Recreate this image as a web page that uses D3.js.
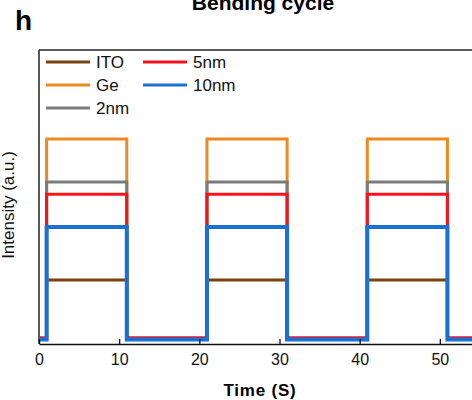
<!DOCTYPE html>
<html>
<head>
<meta charset="utf-8">
<script src="https://cdn.jsdelivr.net/npm/d3@7"></script>
<style>
  html, body { margin: 0; padding: 0; background: #fff; overflow: hidden; }
  svg { display: block; font-family: Arial, "Liberation Sans", sans-serif; }
</style>
</head>
<body>
<svg id="chart" width="472" height="400"></svg>
<script>
// Light switching times (s): the source toggles on/off every 10 s
const switchTimes = [0, 0.95, 10.95, 20.95, 30.95, 40.95, 50.95, 60];
const lightOn     = [0, 1, 0, 1, 0, 1, 0, 0];

// Series names, on-state and off-state intensity (a.u.)
const seriesNames = ["ITO", "Ge", "2nm", "5nm", "10nm"];
const onLevels    = [21.8, 69.7, 55.1, 50.9, 39.8];
const offLevels   = [1.9, 1.7, 1.8, 2.1, 1.5];
const seriesColors = ["#7a4210", "#ec8a1f", "#7c7c7c", "#f4141c", "#1a70d6"];
const seriesWidths = [3, 3, 3, 3, 4];

// Axis ticks
const xTicks = [0, 10, 20, 30, 40, 50];

const svg = d3.select("#chart");
const margin = { left: 39, top: 50, bottom: 344 };

const x = d3.scaleLinear().domain([0, 60]).range([margin.left, 520]);
const y = d3.scaleLinear().domain([0, 100]).range([margin.bottom, margin.top]);

// Panel label and title
svg.append("text")
  .attr("x", 15).attr("y", 30)
  .attr("font-size", 28).attr("font-weight", "bold")
  .text("h");

svg.append("text")
  .attr("x", 263).attr("y", 10)
  .attr("text-anchor", "middle")
  .attr("font-size", 21).attr("font-weight", "bold")
  .text("Bending cycle");

// Frame: top and left edges
svg.append("line")
  .attr("x1", x(0)).attr("x2", x(60))
  .attr("y1", y(100)).attr("y2", y(100))
  .attr("stroke", "#222").attr("stroke-width", 1.5);

svg.append("line")
  .attr("x1", x(0)).attr("x2", x(0))
  .attr("y1", y(100)).attr("y2", y(0))
  .attr("stroke", "#222").attr("stroke-width", 1.5);

// Series as step lines
const series = seriesNames.map((name, i) => ({
  name,
  color: seriesColors[i],
  width: seriesWidths[i],
  points: switchTimes.map((t, k) => [t, lightOn[k] ? onLevels[i] : offLevels[i]])
}));

const line = d3.line()
  .x(d => x(d[0]))
  .y(d => y(d[1]))
  .curve(d3.curveStepAfter);

svg.append("g")
  .selectAll("path")
  .data(series)
  .join("path")
  .attr("d", d => line(d.points))
  .attr("fill", "none")
  .attr("stroke", d => d.color)
  .attr("stroke-width", d => d.width)
  .attr("stroke-linejoin", "miter");

// Bottom axis with inward ticks
const xAxis = d3.axisBottom(x)
  .tickValues(xTicks)
  .tickSizeInner(-5)
  .tickSizeOuter(0)
  .tickPadding(10)
  .tickFormat(d3.format("d"));

const gx = svg.append("g")
  .attr("transform", `translate(0,${y(0)})`)
  .call(xAxis);
gx.select(".domain").attr("stroke", "#111").attr("stroke-width", 1.5);
gx.selectAll(".tick line").attr("stroke", "#111").attr("stroke-width", 1.3);
gx.selectAll(".tick text")
  .attr("font-size", 16)
  .attr("font-family", "Arial, 'Liberation Sans', sans-serif")
  .attr("fill", "#111");

// Axis titles
svg.append("text")
  .attr("x", 260).attr("y", 396)
  .attr("text-anchor", "middle")
  .attr("font-size", 17).attr("font-weight", "bold")
  .attr("letter-spacing", 0.8)
  .text("Time (S)");

svg.append("text")
  .attr("transform", "translate(14,205) rotate(-90)")
  .attr("text-anchor", "middle")
  .attr("font-size", 17)
  .attr("fill", "#111")
  .text("Intensity (a.u.)");

// Legend: two columns
const legendCols = [46, 143];
const legendRows = [62, 85, 108];
const legendItems = series.map((s, i) => ({
  ...s,
  col: i < 3 ? 0 : 1,
  row: i < 3 ? i : i - 3
}));

const lg = svg.append("g")
  .selectAll("g")
  .data(legendItems)
  .join("g")
  .attr("transform", d => `translate(${legendCols[d.col]},${legendRows[d.row]})`);

lg.append("line")
  .attr("x1", 0).attr("x2", 44)
  .attr("y1", 0).attr("y2", 0)
  .attr("stroke", d => d.color)
  .attr("stroke-width", 3);

lg.append("text")
  .attr("x", 50).attr("y", 6)
  .attr("font-size", 17)
  .attr("fill", "#111")
  .text(d => d.name);
</script>
</body>
</html>
